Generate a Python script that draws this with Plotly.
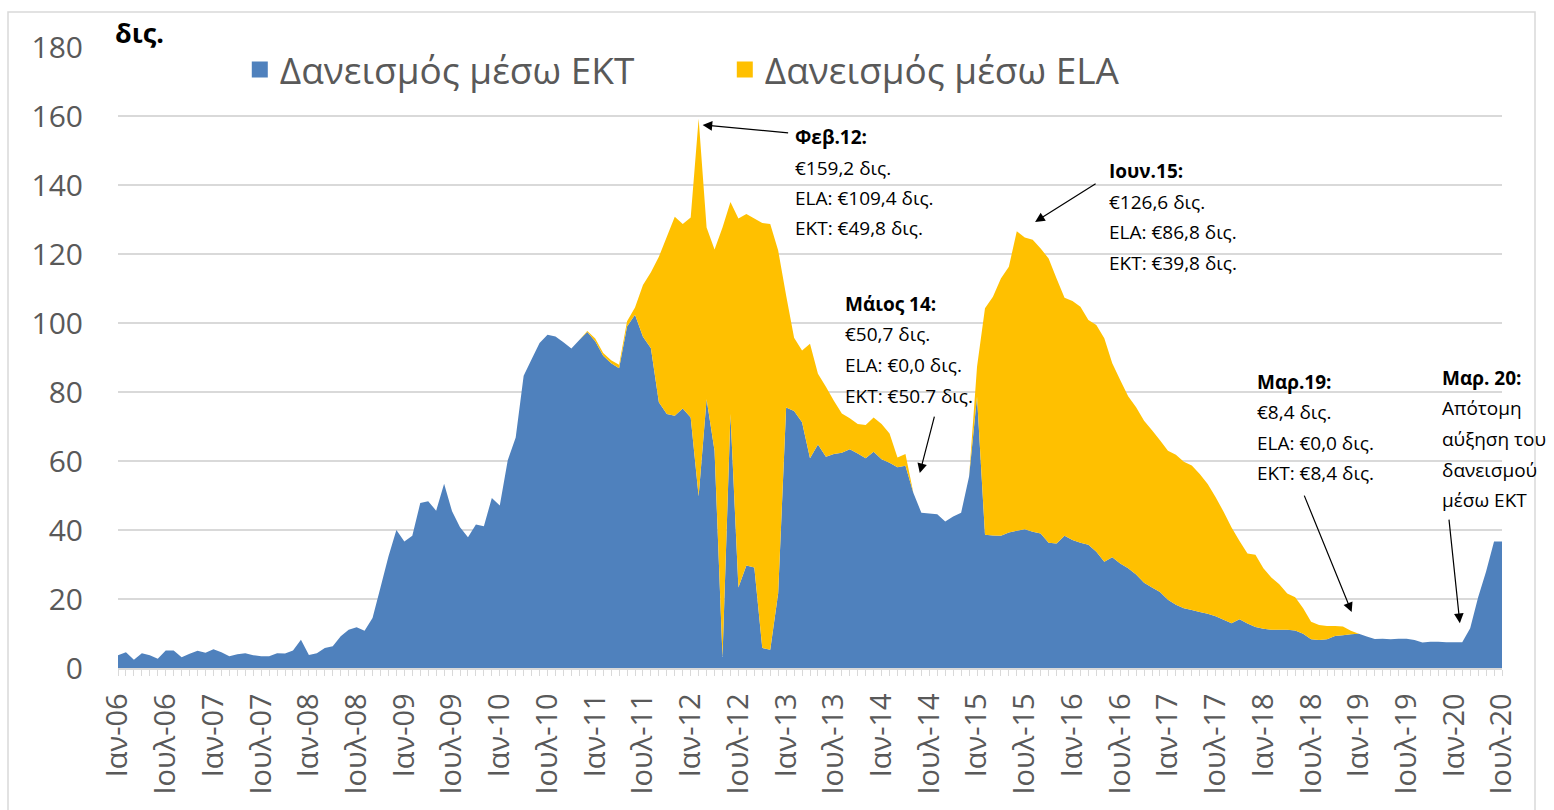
import plotly.graph_objects as go

# ---------------- data (monthly, Jan 2006 - Jul 2020), € bn ----------------
month_names = ["Ιαν", "Φεβ", "Μαρ", "Απρ", "Μαϊ", "Ιουν",
               "Ιουλ", "Αυγ", "Σεπ", "Οκτ", "Νοε", "Δεκ"]
years = list(range(2006, 2021))
months = [f"{m}-{y % 100:02d}" for y in years for m in month_names][:175]

ecb = [
    3.7, 4.6, 2.4, 4.3, 3.7, 2.7, 5.1, 5.1, 3.1, 4.1, 5.0, 4.4,      # 2006
    5.4, 4.6, 3.4, 4.0, 4.3, 3.7, 3.4, 3.4, 4.3, 4.2, 5.1, 8.2,      # 2007
    3.8, 4.3, 5.8, 6.3, 9.2, 11.1, 11.8, 10.8, 14.5, 23.3, 32.3, 40.0,  # 2008
    36.7, 38.3, 47.8, 48.3, 45.6, 53.4, 45.4, 40.8, 37.9, 41.6, 41.1, 49.3,  # 2009
    47.1, 60.2, 66.8, 84.7, 89.5, 94.2, 96.6, 96.1, 94.4, 92.6, 95.1, 97.4,  # 2010
    94.7, 90.5, 88.3, 86.9, 99.0, 102.4, 96.0, 92.7, 77.0, 73.6, 73.1, 75.2,  # 2011
    72.6, 49.8, 77.9, 63.0, 3.2, 73.6, 23.3, 29.7, 29.1, 5.8, 5.3, 21.7,  # 2012
    75.5, 74.5, 71.2, 60.8, 64.8, 61.2, 62.0, 62.4, 63.4, 62.2, 60.8, 62.7,  # 2013
    60.5, 59.5, 58.2, 58.6, 50.7, 45.0, 44.8, 44.6, 42.5, 43.9, 45.0, 55.5,  # 2014
    78.6, 38.6, 38.4, 38.3, 39.3, 39.8, 40.2, 39.5, 39.0, 36.3, 36.1, 38.3,  # 2015
    37.1, 36.3, 35.7, 33.7, 30.8, 32.1, 30.3, 28.9, 27.1, 24.7, 23.3, 22.0,  # 2016
    19.8, 18.3, 17.3, 16.8, 16.2, 15.7, 15.0, 14.0, 13.0, 14.1, 12.9, 11.9,  # 2017
    11.4, 11.1, 11.1, 11.1, 10.9, 9.9, 8.3, 8.1, 8.3, 9.3, 9.5, 9.8,  # 2018
    9.9, 9.1, 8.4, 8.5, 8.3, 8.5, 8.5, 8.1, 7.4, 7.6, 7.6, 7.5,      # 2019
    7.5, 7.5, 11.5, 20.5, 28.0, 36.7, 36.7,                          # 2020
]

total = [
    3.7, 4.6, 2.4, 4.3, 3.7, 2.7, 5.1, 5.1, 3.1, 4.1, 5.0, 4.4,
    5.4, 4.6, 3.4, 4.0, 4.3, 3.7, 3.4, 3.4, 4.3, 4.2, 5.1, 8.2,
    3.8, 4.3, 5.8, 6.3, 9.2, 11.1, 11.8, 10.8, 14.5, 23.3, 32.3, 40.0,
    36.7, 38.3, 47.8, 48.3, 45.6, 53.4, 45.4, 40.8, 37.9, 41.6, 41.1, 49.3,
    47.1, 60.2, 66.8, 84.7, 89.5, 94.2, 96.6, 96.1, 94.4, 92.6, 95.1, 97.7,
    95.5, 91.3, 89.2, 87.9, 100.5, 104.5, 111.0, 114.7, 119.2, 125.0, 130.8, 128.7,
    130.6, 159.2, 127.7, 121.3, 127.7, 135.1, 130.3, 131.6, 130.3, 129.0, 128.7, 121.0,
    108.0, 95.7, 92.0, 94.0, 85.3, 81.5, 77.5, 73.8, 72.4, 70.7, 70.4, 72.6,
    70.7, 68.0, 61.0, 62.0, 50.7, 45.0, 44.8, 44.6, 42.5, 43.9, 45.0, 55.5,
    87.3, 104.3, 107.6, 112.9, 116.3, 126.6, 124.8, 124.1, 121.6, 118.7, 112.9, 107.3,
    106.4, 104.7, 100.9, 99.4, 95.6, 88.3, 83.5, 78.8, 75.6, 71.7, 68.9, 66.0,
    63.0, 61.8, 59.8, 58.7, 56.2, 53.3, 49.5, 45.3, 40.7, 36.8, 33.2, 32.8,
    28.9, 26.2, 24.3, 21.6, 20.5, 17.3, 13.4, 12.5, 12.2, 12.2, 12.0, 10.8,
    9.9, 9.1, 8.4, 8.5, 8.3, 8.5, 8.5, 8.1, 7.4, 7.6, 7.6, 7.5,
    7.5, 7.5, 11.5, 20.5, 28.0, 36.7, 36.7,
]
ela = [round(t - e, 1) for t, e in zip(total, ecb)]

series_names = ["Δανεισμός μέσω ΕΚΤ", "Δανεισμός μέσω ELA"]
y_ticks = [0, 20, 40, 60, 80, 100, 120, 140, 160, 180]
tick_labels = [m if i % 6 == 0 else "" for i, m in enumerate(months)]

# annotation text blocks
notes = [
    ["Φεβ.12:", "€159,2 δις.", "ELA: €109,4 δις.", "ΕΚΤ: €49,8 δις."],
    ["Ιουν.15:", "€126,6 δις.", "ELA: €86,8 δις.", "ΕΚΤ: €39,8 δις."],
    ["Μάιος 14:", "€50,7 δις.", "ELA: €0,0 δις.", "ΕΚΤ: €50.7 δις."],
    ["Μαρ.19:", "€8,4 δις.", "ELA: €0,0 δις.", "ΕΚΤ: €8,4 δις."],
    ["Μαρ. 20:", "Απότομη", "αύξηση του", "δανεισμού", "μέσω ΕΚΤ"],
]

# ---------------- layout geometry (pixels) ----------------
W, H = 1554, 810
L, R, T, B = 118, 52, 47, 142
PW, PH = W - L - R, H - T - B


def paper(px, py):
    return (px - L) / PW, (H - B - py) / PH


note_pos = [(793, 137), (1107, 171), (843, 304), (1255, 382), (1440, 378)]
line_gap = 30.5
# arrow tips (month index, value) and tail offsets (px)
arrows = [
    (73.5, 157.4, 87, 8),
    (115.3, 129.3, 62, -39),
    (100.8, 56.5, 15, -58),
    (155.1, 16.2, -48, -118),
    (168.7, 13.0, -11, -105),
]

BLUE = "#4f81bd"
YELLOW = "#ffc000"
GREY_TXT = "#595959"
GRID = "#d9d9d9"
FONT = "Open Sans"

fig = go.Figure()
fig.add_trace(go.Scatter(
    x=months, y=ecb, stackgroup="one", mode="none",
    fillcolor=BLUE, line=dict(width=0), showlegend=False,
    name=series_names[0]))
fig.add_trace(go.Scatter(
    x=months, y=ela, stackgroup="one", mode="none",
    fillcolor=YELLOW, line=dict(width=0), showlegend=False,
    name=series_names[1]))
# legend swatches
for nm, col in zip(series_names, [BLUE, YELLOW]):
    fig.add_trace(go.Scatter(
        x=[None], y=[None], mode="markers", name=nm,
        marker=dict(symbol="square", size=22, color=col)))

annotations = []
for block, (px, py) in zip(notes, note_pos):
    for k, line in enumerate(block):
        xp, yp = paper(px, py + k * line_gap)
        annotations.append(dict(
            x=xp, y=yp, xref="paper", yref="paper",
            xanchor="left", yanchor="middle", showarrow=False,
            text=f"<b>{line}</b>" if k == 0 else line,
            font=dict(family=FONT, size=19, color="black")))
for (xi, yv, ax, ay) in arrows:
    annotations.append(dict(
        x=xi, y=yv, xref="x", yref="y", ax=ax, ay=ay,
        text="", showarrow=True, arrowhead=2, arrowsize=1.6,
        arrowwidth=1.2, arrowcolor="black", standoff=0))
xp, yp = paper(113, 33)
annotations.append(dict(
    x=xp, y=yp, xref="paper", yref="paper", xanchor="left",
    yanchor="middle", showarrow=False, text="<b>δις.</b>",
    font=dict(family=FONT, size=27, color="black")))

x0, y1 = paper(8, 12)
x1, y0 = paper(1535, 820)

fig.update_layout(
    width=W, height=H,
    margin=dict(l=L, r=R, t=T, b=B),
    plot_bgcolor="white", paper_bgcolor="white",
    font=dict(family=FONT, color=GREY_TXT),
    showlegend=True,
    legend=dict(orientation="h", x=0.088, xanchor="left",
                y=paper(0, 70)[1], yanchor="middle",
                traceorder="normal",
                font=dict(size=37, color=GREY_TXT, family=FONT),
                bgcolor="rgba(0,0,0,0)", entrywidth=440,
                itemsizing="trace"),
    annotations=annotations,
    shapes=[dict(type="rect", xref="paper", yref="paper",
                 x0=x0, x1=x1, y0=y0, y1=y1,
                 line=dict(color=GRID, width=1.5), layer="below")],
    xaxis=dict(type="category", range=[0, len(months) - 1],
               tickmode="array", tickvals=months, ticktext=tick_labels,
               tickangle=-90, ticks="outside", ticklen=6,
               tickcolor=GRID, showgrid=False, showline=True,
               linecolor=GRID, linewidth=1.5, ticklabelstandoff=6,
               tickfont=dict(size=29, color=GREY_TXT, family=FONT)),
    yaxis=dict(range=[0, 180], tickvals=y_ticks, showgrid=True,
               gridcolor=GRID, gridwidth=1.5, zeroline=False,
               showline=False, ticks="", ticklabelstandoff=34,
               tickfont=dict(size=30, color=GREY_TXT, family=FONT)),
)

fig.write_html("out.html", config={"displayModeBar": False},
               post_script="document.body.style.margin='0';")
